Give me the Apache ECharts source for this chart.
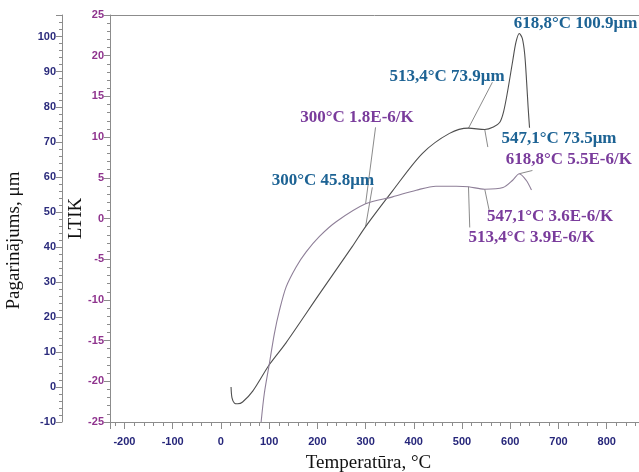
<!DOCTYPE html>
<html>
<head>
<meta charset="utf-8">
<script src="https://cdn.jsdelivr.net/npm/echarts@6/dist/echarts.min.js"></script>
<style>
  html, body { margin: 0; padding: 0; background: #fff; }
  #chart { width: 639px; height: 472px; }
</style>
</head>
<body>
<div id="chart"></div>
<script>
// Dilatometer run: sample elongation (μm) and linear expansion coefficient (LTIK, 1e-6/K) vs temperature
const dilTemp = [21, 23, 28, 35, 45, 66, 100.6, 135, 204, 273, 300, 356, 418, 474, 513.4, 547.1, 565, 578, 586, 594, 605, 612, 618.8, 625, 630, 634, 637, 640];
const dilUm   = [0, -3.1, -4.6, -4.8, -4.3, -1.2, 6.4, 12.6, 26.5, 40.2, 45.8, 56, 66.7, 72.4, 73.9, 73.5, 74.2, 75.5, 78.5, 84, 93, 98.5, 100.9, 99.5, 95, 87, 80, 74];

const cteTemp = [83.4, 90, 100.6, 111, 121.4, 135.3, 156, 176.8, 204.4, 239, 300, 356, 405, 446, 488, 513.4, 547.1, 585, 605, 618.8, 633, 644];
const cteVal  = [-25, -21.5, -17.8, -14.1, -11.3, -8.4, -5.95, -4.1, -2.2, -0.4, 1.8, 2.66, 3.48, 3.97, 3.97, 3.9, 3.6, 3.8, 4.7, 5.5, 4.7, 3.5];

// Marked points
const markTemp = [300, 513.4, 547.1, 618.8];
const markUm   = [45.8, 73.9, 73.5, 100.9];
const markCte  = [1.8, 3.9, 3.6, 5.5];

// Axis tick labels
const tempTicks = [-200, -100, 0, 100, 200, 300, 400, 500, 600, 700, 800];
const umTicks   = [-10, 0, 10, 20, 30, 40, 50, 60, 70, 80, 90, 100];
const cteTicks  = [-25, -20, -15, -10, -5, 0, 5, 10, 15, 20, 25];

// Where each callout's leader ends and where its text sits (data coordinates)
const umCallouts = [
  { lead: [314, 57],     text: [211.4, 59.0] },
  { lead: [563, 87],     text: [468.9, 88.5] },
  { lead: [553.5, 68.5], text: [701, 71.0] },
  { lead: null,          text: [735.5, 103.6] }
];
const cteCallouts = [
  { lead: [320.7, 11.2], text: [282.2, 12.45] },
  { lead: [516, -1.1],   text: [644.2, -2.3] },
  { lead: [557, 0.8],    text: [682.6, 0.28] },
  { lead: [646, 5.9],    text: [721.4, 7.29] }
];

const fmtT = t => String(t).replace('.', ',');
const zip = (a, b) => a.map((v, i) => [v, b[i]]);

const BLUE = '#1d6394';
const PURPLE = '#7a3c9c';
const LEAD = '#7d7d7d';
const serif = '"Liberation Serif", "Times New Roman", serif';
const sans = '"Liberation Sans", Arial, sans-serif';

function callout(yIdx, t, v, cfg, text, color) {
  const data = cfg.lead ? [[t, v], cfg.lead] : [[t, v]];
  return {
    type: 'line',
    xAxisIndex: 0,
    yAxisIndex: yIdx,
    data: data,
    showSymbol: false,
    symbol: 'none',
    silent: true,
    lineStyle: { color: LEAD, width: 0.9 },
    z: 3,
    markPoint: {
      symbol: 'circle',
      symbolSize: 0,
      silent: true,
      data: [{
        coord: cfg.text,
        label: {
          show: true,
          position: 'inside',
          formatter: text,
          color: color,
          fontFamily: serif,
          fontWeight: 'bold',
          fontSize: 17
        }
      }]
    }
  };
}

const series = [
  {
    name: 'Pagarinājums',
    type: 'line',
    xAxisIndex: 0,
    yAxisIndex: 1,
    data: zip(dilTemp, dilUm),
    smooth: 0.3,
    showSymbol: false,
    symbol: 'none',
    lineStyle: { color: '#4f4f4f', width: 1.1 },
    z: 4
  },
  {
    name: 'LTIK',
    type: 'line',
    xAxisIndex: 0,
    yAxisIndex: 0,
    data: zip(cteTemp, cteVal),
    smooth: 0.3,
    showSymbol: false,
    symbol: 'none',
    lineStyle: { color: '#8e7f98', width: 1.1 },
    z: 4
  }
];

markTemp.forEach((t, i) => {
  series.push(callout(1, t, markUm[i], umCallouts[i],
    fmtT(t) + '°C ' + markUm[i].toFixed(1) + 'μm', BLUE));
  series.push(callout(0, t, markCte[i], cteCallouts[i],
    fmtT(t) + '°C ' + markCte[i].toFixed(1) + 'E-6/K', PURPLE));
});

const axisGray = '#8c8c8c';
const onlyTicks = list => (v => list.indexOf(v) >= 0 ? String(v) : '');

const chart = echarts.init(document.getElementById('chart'), null, { renderer: 'canvas' });
chart.setOption({
  animation: false,
  backgroundColor: '#ffffff',
  grid: { left: 110, right: 0, top: 15, bottom: 50, containLabel: false, outerBoundsMode: 'none' },
  xAxis: [
    {
      type: 'value',
      position: 'bottom',
      min: -230,
      max: 867,
      splitNumber: 11,
      name: 'Temperatūra, °C',
      nameLocation: 'middle',
      nameGap: 32,
      nameMoveOverlap: false,
      nameTextStyle: { fontFamily: serif, fontSize: 19, color: '#111', padding: [0, 12, 0, 0] },
      axisLine: { show: true, onZero: false, lineStyle: { color: axisGray, width: 1 } },
      axisTick: { show: true, length: 7, lineStyle: { color: axisGray } },
      minorTick: { show: true, splitNumber: 5, length: 4, lineStyle: { color: axisGray } },
      splitLine: { show: false },
      axisLabel: {
        margin: 14,
        color: '#26267a',
        fontFamily: sans,
        fontWeight: 'bold',
        fontSize: 11,
        formatter: onlyTicks(tempTicks)
      }
    },
    {
      type: 'value',
      position: 'top',
      min: -230,
      max: 867,
      axisLine: { show: true, onZero: false, lineStyle: { color: axisGray, width: 1 } },
      axisTick: { show: false },
      axisLabel: { show: false },
      splitLine: { show: false }
    }
  ],
  yAxis: [
    {
      type: 'value',
      position: 'left',
      min: -25,
      max: 25,
      interval: 5,
      name: 'LTIK',
      nameLocation: 'middle',
      nameGap: 24,
      nameRotate: 90,
      nameMoveOverlap: false,
      nameTextStyle: { fontFamily: serif, fontSize: 19, color: '#111' },
      axisLine: { show: true, onZero: false, lineStyle: { color: axisGray, width: 1 } },
      axisTick: { show: true, length: 6, lineStyle: { color: axisGray } },
      minorTick: { show: true, splitNumber: 5, length: 3, lineStyle: { color: axisGray } },
      splitLine: { show: false },
      axisLabel: {
        margin: 6,
        color: '#8f348e',
        fontFamily: sans,
        fontWeight: 'bold',
        fontSize: 11,
        formatter: onlyTicks(cteTicks)
      }
    },
    {
      type: 'value',
      position: 'left',
      offset: 48,
      min: -10,
      max: 106.2,
      interval: 10,
      name: 'Pagarinājums, μm',
      nameLocation: 'middle',
      nameGap: 38,
      nameRotate: 90,
      nameMoveOverlap: false,
      nameTextStyle: { fontFamily: serif, fontSize: 19, color: '#111', padding: [0, 44, 0, 0] },
      axisLine: { show: true, onZero: false, lineStyle: { color: axisGray, width: 1 } },
      axisTick: { show: true, length: 6, lineStyle: { color: axisGray } },
      minorTick: { show: true, splitNumber: 5, length: 3, lineStyle: { color: axisGray } },
      splitLine: { show: false },
      axisLabel: {
        margin: 6,
        color: '#2b2b7c',
        fontFamily: sans,
        fontWeight: 'bold',
        fontSize: 11,
        formatter: onlyTicks(umTicks)
      }
    }
  ],
  series: series
});
</script>
</body>
</html>
